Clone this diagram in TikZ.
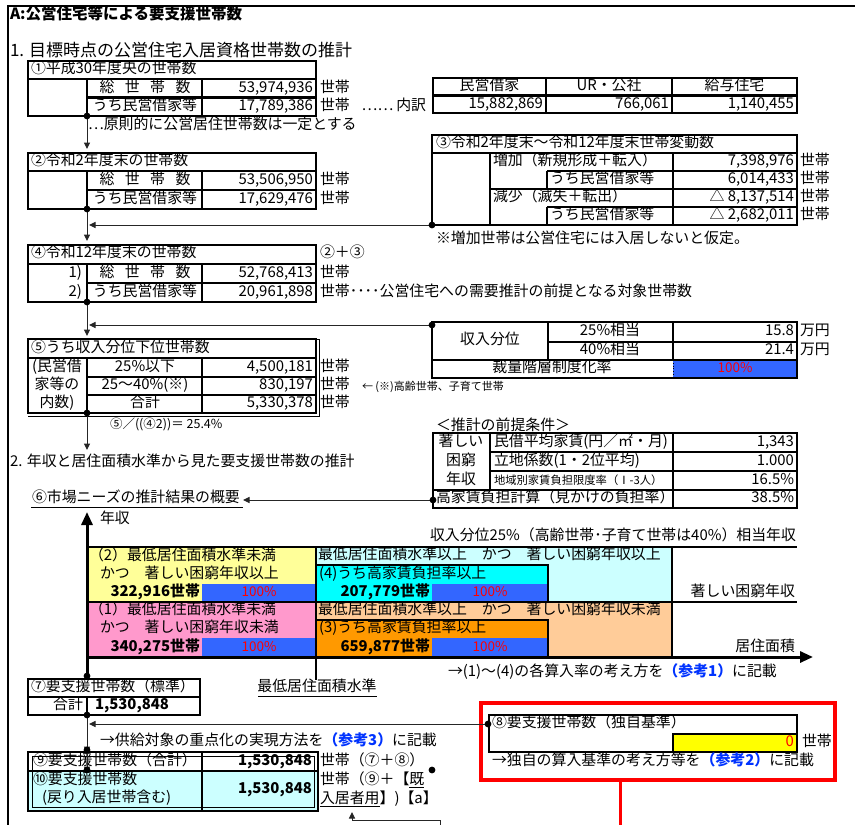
\documentclass[tikz,border=0pt]{standalone}
\usepackage{fontspec}
\setmainfont{Noto Sans CJK JP}
\usetikzlibrary{arrows.meta}
\definecolor{cYel}{HTML}{FFFF99}
\definecolor{cPink}{HTML}{FF99CC}
\definecolor{cLCyan}{HTML}{CCFFFF}
\definecolor{cCyan}{HTML}{00FFFF}
\definecolor{cLOra}{HTML}{FFCC99}
\definecolor{cOra}{HTML}{FF9900}
\definecolor{cBlue}{HTML}{3366FF}
\definecolor{cRed}{HTML}{FF0000}
\definecolor{cYellow}{HTML}{FFFF00}
\definecolor{cRef}{HTML}{0033FF}
\newcommand\fs{\fontsize{14.9}{17}\selectfont}
\newcommand\fsL{\fontsize{17}{19}\selectfont}
\newcommand\fsS{\fontsize{11.3}{13}\selectfont}
\newcommand\fsXS{\fontsize{11}{12}\selectfont}
\newcommand\fsM{\fontsize{12.5}{14}\selectfont}
\newcommand\gap{\hspace{.7em}}
\newcommand\refb[1]{{\bfseries\color{cRef}#1}}
\newcounter{tn}
\newcommand\Tx[3][]{\stepcounter{tn}\node[txt,#1] (t\arabic{tn}) at (#2) {#3};}
\begin{document}
\begin{tikzpicture}[x=1pt,y=-1pt,
 txt/.style={inner sep=0pt,outer sep=0pt,text height=.88em,text depth=.12em,font=\fs},
 tb/.style={line width=2.7pt},
 thin/.style={line width=.8pt},
 conn/.style={line width=1pt,draw=black!85},
 tip/.style={-{Triangle[length=6.5pt,width=6pt]}},
 axis/.style={line width=3pt,-{Triangle[length=13pt,width=11pt]}},
 red100/.style={txt,text=cRed,font=\fontsize{13.5}{15}\selectfont},
 bnum/.style={txt,anchor=east,font=\bfseries\fs}]
\useasboundingbox (0,0) rectangle (855,825);
% outer frame
\draw[line width=1.5pt] (8,826) -- (8,6) -- (856,6);
\Tx[anchor=west,font=\bfseries\fontsize{15.5}{17}\selectfont]{10,16}{A:公営住宅等による要支援世帯数}
\Tx[anchor=west,font=\fsL]{10,53}{1. 目標時点の公営住宅入居資格世帯数の推計}

% ---- box 1
\draw[tb] (28,61) rectangle (316,116);
\draw[tb] (28,79) -- (316,79) (87,79) -- (87,116) (202,79) -- (202,116) (87,97.5) -- (316,97.5);
\Tx[anchor=west]{31,70}{①平成30年度央の世帯数}
\Tx{145,88.5}{総\gap 世\gap 帯\gap 数}
\Tx{145,107}{うち民営借家等}
\Tx[anchor=east]{313,88.5}{53,974,936}
\Tx[anchor=east]{313,107}{17,789,386}
\Tx[anchor=west]{320,88.5}{世帯}
\Tx[anchor=west]{320,107}{世帯\hspace{.8em}……\hspace{.2em}内訳}
\Tx[anchor=west]{88,126}{…原則的に公営居住世帯数は一定とする}

% ---- breakdown table
\draw[tb] (433,78) rectangle (797,113);
\draw[tb] (433,95.5) -- (797,95.5) (546,78) -- (546,113) (672,78) -- (672,113);
\Tx{489.5,87}{民営借家}
\Tx{609,87}{UR・公社}
\Tx{734.5,87}{給与住宅}
\Tx[anchor=east]{543,104.5}{15,882,869}
\Tx[anchor=east]{669,104.5}{766,061}
\Tx[anchor=east]{794,104.5}{1,140,455}

% ---- box 2
\draw[tb] (28,153) rectangle (316,209);
\draw[tb] (28,171) -- (316,171) (87,171) -- (87,209) (202,171) -- (202,209) (87,190) -- (316,190);
\Tx[anchor=west]{31,162}{②令和2年度末の世帯数}
\Tx{145,180.5}{総\gap 世\gap 帯\gap 数}
\Tx{145,199.5}{うち民営借家等}
\Tx[anchor=east]{313,180.5}{53,506,950}
\Tx[anchor=east]{313,199.5}{17,629,476}
\Tx[anchor=west]{320,180.5}{世帯}
\Tx[anchor=west]{320,199.5}{世帯}

% ---- box 3
\draw[tb] (432,135) rectangle (797,225);
\draw[tb] (432,153) -- (797,153) (490,153) -- (490,225) (673,153) -- (673,225)
  (547,171) -- (797,171) (490,189) -- (797,189) (547,207) -- (797,207)
  (547,171) -- (547,189) (547,207) -- (547,225);
\Tx[anchor=west]{436,144}{③令和2年度末～令和12年度末世帯変動数}
\Tx[anchor=west]{493,162}{増加（新規形成＋転入）}
\Tx[anchor=west]{550,180}{うち民営借家等}
\Tx[anchor=west]{493,198}{減少（滅失＋転出）}
\Tx[anchor=west]{550,216}{うち民営借家等}
\Tx[anchor=east]{794,162}{7,398,976}
\Tx[anchor=east]{794,180}{6,014,433}
\Tx[anchor=east]{794,198}{△ 8,137,514}
\Tx[anchor=east]{794,216}{△ 2,682,011}
\Tx[anchor=west]{800,162}{世帯}
\Tx[anchor=west]{800,180}{世帯}
\Tx[anchor=west]{800,198}{世帯}
\Tx[anchor=west]{800,216}{世帯}
\Tx[anchor=west]{436,240}{※増加世帯は公営住宅には入居しないと仮定。}

% ---- box 4
\draw[tb] (28,245) rectangle (316,302);
\draw[tb] (28,264) -- (316,264) (87,264) -- (87,302) (202,264) -- (202,302) (87,283) -- (316,283);
\Tx[anchor=west]{31,254}{④令和12年度末の世帯数}
\Tx[anchor=east]{82,273.5}{1)}
\Tx[anchor=east]{82,292.5}{2)}
\Tx{145,273.5}{総\gap 世\gap 帯\gap 数}
\Tx{145,292.5}{うち民営借家等}
\Tx[anchor=east]{313,273.5}{52,768,413}
\Tx[anchor=east]{313,292.5}{20,961,898}
\Tx[anchor=west]{320,254}{②＋③}
\Tx[anchor=west]{320,273.5}{世帯}
\Tx[anchor=west]{320,292.5}{世帯････公営住宅への需要推計の前提となる対象世帯数}

% ---- income quantile box
\fill[cBlue] (673,360) rectangle (797,378);
\draw[tb] (432,322) rectangle (797,378);
\draw[tb] (548,342) -- (797,342) (432,360) -- (797,360) (548,322) -- (548,360) (673,322) -- (673,360);
\draw[thin,dotted] (673,360) -- (673,378);
\Tx{490,341}{収入分位}
\Tx{610,332}{25\%相当}
\Tx{610,351}{40\%相当}
\Tx[anchor=east]{794,332}{15.8}
\Tx[anchor=east]{794,351}{21.4}
\Tx[anchor=west]{800,332}{万円}
\Tx[anchor=west]{800,351}{万円}
\Tx{552,369}{裁量階層制度化率}
\Tx[red100]{735,369}{100\%}

% ---- box 5
\draw[tb] (28,339) rectangle (316,413);
\draw[thin] (28,339) -- (319.5,339) -- (319.5,416.5) -- (28,416.5);
\draw[tb] (28,358) -- (316,358) (87,358) -- (87,413) (202,358) -- (202,413) (87,377) -- (316,377) (87,395) -- (316,395);
\Tx[anchor=west]{31,348.5}{⑤うち収入分位下位世帯数}
\Tx{57,368}{(民営借}
\Tx{57,386}{家等の}
\Tx{57,404}{内数)}
\Tx{145,367.5}{25\%以下}
\Tx{145,386}{25～40\%(※)}
\Tx{145,404}{合計}
\Tx[anchor=east]{313,367.5}{4,500,181}
\Tx[anchor=east]{313,386}{830,197}
\Tx[anchor=east]{313,404}{5,330,378}
\Tx[anchor=west]{320,367.5}{世帯}
\Tx[anchor=west]{320,386}{世帯}
\Tx[anchor=west]{320,404}{世帯}
\Tx[anchor=west,font=\fsXS]{362,387}{← (※)高齢世帯、子育て世帯}
\Tx[anchor=west,font=\fsM]{110,425}{⑤／((④2))＝ 25.4\%}

% ---- section 2
\Tx[anchor=west]{10,463}{2. 年収と居住面積水準から見た要支援世帯数の推計}
\Tx[anchor=west]{436,427}{＜推計の前提条件＞}

% ---- preconditions table
\draw[tb] (433,433) rectangle (797,508);
\draw[tb] (490,452) -- (797,452) (490,471) -- (797,471) (433,490) -- (797,490) (490,433) -- (490,490) (673,433) -- (673,508);
\Tx{461,443}{著しい}
\Tx{461,461.5}{困窮}
\Tx{461,480.5}{年収}
\Tx[anchor=west]{494,442.5}{民借平均家賃(円／㎡・月)}
\Tx[anchor=west]{494,461.5}{立地係数(1・2位平均)}
\Tx[anchor=west,font=\fsS]{494,480.5}{地域別家賃負担限度率（Ⅰ-3人）}
\Tx[anchor=west]{436,499}{高家賃負担計算（見かけの負担率）}
\Tx[anchor=east]{794,442.5}{1,343}
\Tx[anchor=east]{794,461.5}{1.000}
\Tx[anchor=east]{794,480.5}{16.5\%}
\Tx[anchor=east]{794,499}{38.5\%}

% ---- 6 heading
\Tx[anchor=west]{32,499}{⑥市場ニーズの推計結果の概要}
\draw[line width=1.8pt] (31,507.5) -- (243,507.5);
\Tx[anchor=west]{100,520}{年収}

% ---- chart fills
\fill[cYel] (87,547) rectangle (316,602);
\fill[cPink] (87,602) rectangle (316,657);
\fill[cLCyan] (316,547) rectangle (672,602);
\fill[cLOra] (316,602) rectangle (672,657);
\fill[cCyan] (316,565) rectangle (548,602);
\fill[cOra] (316,620) rectangle (548,657);
\fill[cBlue] (202,584) rectangle (316,602);
\fill[cBlue] (202,638) rectangle (316,657);
\fill[cBlue] (432,584) rectangle (548,602);
\fill[cBlue] (432,638) rectangle (548,657);
% chart texts
\Tx[anchor=west]{89,556.5}{（2）最低居住面積水準未満}
\Tx[anchor=west]{100,574.5}{かつ　著しい困窮年収以上}
\Tx[bnum]{200,593}{322,916世帯}
\Tx[red100]{259,593}{100\%}
\Tx[anchor=west]{89,611}{（1）最低居住面積水準未満}
\Tx[anchor=west]{100,629}{かつ　著しい困窮年収未満}
\Tx[bnum]{200,648}{340,275世帯}
\Tx[red100]{259,648}{100\%}
\Tx[anchor=west]{318,556}{最低居住面積水準以上　かつ　著しい困窮年収以上}
\Tx[anchor=west]{319,574.5}{(4)うち高家賃負担率以上}
\Tx[bnum]{430,593}{207,779世帯}
\Tx[red100]{490,593}{100\%}
\Tx[anchor=west]{318,611}{最低居住面積水準以上　かつ　著しい困窮年収未満}
\Tx[anchor=west]{319,629}{(3)うち高家賃負担率以上}
\Tx[bnum]{430,648}{659,877世帯}
\Tx[red100]{490,648}{100\%}
\Tx[anchor=east]{796,537}{収入分位25\%（高齢世帯･子育て世帯は40\%）相当年収}
\Tx[anchor=east]{795,592.5}{著しい困窮年収}
\Tx[anchor=east]{795,647.5}{居住面積}
% chart lines
\draw[tb] (87,547) -- (797,547) (87,602) -- (797,602) (316,547) -- (316,680) (672,547) -- (672,657);
\draw[tb] (316,565) rectangle (548,602) (316,620) rectangle (548,657);
\coordinate (xo) at (86,657); \coordinate (xtip) at (813,657);
\draw[axis] (xo) -- (xtip);
\coordinate (d8) at (87,676); \coordinate (ytip) at (87,512);
\draw[axis] (d8) -- (ytip);
\Tx{317,687.5}{最低居住面積水準}
\draw[thin] (258,696) -- (377,696);
\Tx[anchor=west]{448,673}{→(1)～(4)の各算入率の考え方を\refb{（参考1）}に記載}

% ---- box 7
\draw[tb] (28,679) rectangle (200,715);
\draw[tb] (28,697) -- (200,697) (87,697) -- (87,715);
\Tx[anchor=west]{31,688}{⑦要支援世帯数（標準）}
\Tx[anchor=east]{83,706}{合計}
\Tx[anchor=west,font=\bfseries\fs]{95,706}{1,530,848}
\Tx[anchor=west]{100,742}{→供給対象の重点化の実現方法を\refb{（参考3）}に記載}

% ---- box 8 (red frame)
\draw[cRed,line width=3.5pt] (481,703) rectangle (835,780);
\fill[cYellow] (673,734) rectangle (797,752);
\draw[tb] (489,715) rectangle (797,752);
\draw[tb] (673,734) rectangle (797,752);
\Tx[anchor=west]{492,724}{⑧要支援世帯数（独自基準）}
\Tx[anchor=east,text=cRed]{794,743}{0}
\Tx[anchor=west]{802,743}{世帯}
\Tx[anchor=west]{492,762}{→独自の算入基準の考え方等を\refb{（参考2）}に記載}
\coordinate (r1) at (620,780); \coordinate (r2) at (620,826);
\draw[cRed,line width=3pt] (r1) -- (r2);

% ---- box 9/10
\fill[cLCyan] (28,771) rectangle (318,811);
\draw[tb] (28,752) rectangle (318,811);
\draw[thin] (32,756) rectangle (314,807);
\draw[tb] (28,771) -- (318,771) (202,752) -- (202,811);
\Tx[anchor=west]{33,762}{⑨要支援世帯数（合計）}
\Tx[bnum]{312,762}{1,530,848}
\Tx[anchor=west]{33,781}{⑩要支援世帯数}
\Tx[anchor=west]{42,799}{(戻り入居世帯含む)}
\Tx[bnum]{312,790}{1,530,848}
\Tx[anchor=west]{320,762}{世帯（⑦＋⑧）}
\Tx[anchor=west]{320,781}{世帯（⑨＋【\underline{既}}
\Tx[anchor=west]{320,800}{\underline{入居者用}】)【a】}

% ---- connectors
\coordinate (d1) at (87,116); \coordinate (b2top) at (87,149);
\coordinate (d2) at (87,209); \coordinate (b4top) at (87,241);
\coordinate (d3) at (432,225); \coordinate (h1) at (89,225);
\coordinate (d4) at (87,302); \coordinate (b5top) at (87,336);
\coordinate (d5) at (432,325); \coordinate (h2) at (89,325);
\coordinate (d6) at (87,413); \coordinate (s2) at (87,450);
\coordinate (d7) at (433,500); \coordinate (h3) at (243,500);
\coordinate (d9) at (87,715); \coordinate (d10) at (87,750); \coordinate (d11) at (87,770);
\coordinate (d12) at (488,724); \coordinate (h4) at (89,724);
\coordinate (d13) at (432,770);
\coordinate (e1) at (440,826); \coordinate (e2) at (352,812);
\draw[conn,tip] (d1) -- (b2top);
\draw[conn,tip] (d2) -- (b4top);
\draw[conn,tip] (d3) -- (h1);
\draw[conn,tip] (d4) -- (b5top);
\draw[conn,tip] (d5) -- (h2);
\draw[conn,tip] (d6) -- (s2);
\draw[conn,tip] (d7) -- (h3);
\draw[conn,tip] (d9) -- ([yshift=-3pt]d10);
\draw[conn,tip] (d10) -- ([yshift=-3pt]d11);
\draw[conn,tip] (d12) -- (h4);
\draw[conn,tip] (e1) |- (352,820) -- (e2);
\foreach \d in {d1,d2,d3,d4,d5,d6,d7,d8,d9,d10,d11,d12,d13} {\fill (\d) circle (3.4);}
\end{tikzpicture}
\end{document}
